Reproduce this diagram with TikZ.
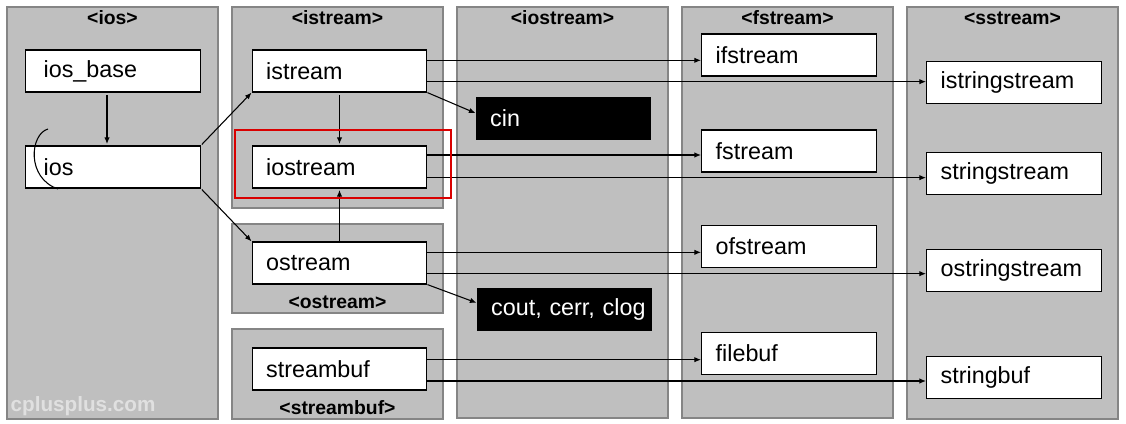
\documentclass[tikz,border=0pt]{standalone}
\usepackage{fontspec}
\setmainfont{Liberation Sans}
\usetikzlibrary{arrows.meta}

\tikzset{
  panel/.style={draw=black!48, line width=1.6pt, fill=black!25},
  cls/.style={draw, fill=white, line width=0.9pt, minimum height=31.5pt,
    text width=110pt, inner xsep=10.5pt, align=left,
    font=\fontsize{17.5}{20}\selectfont},
  obj/.style={cls, fill=black, text=white},
  hdr/.style={font=\bfseries\fontsize{14.5}{16}\selectfont},
  arr/.style={-{Latex[length=5pt,width=4pt]}, line width=0.8pt},
  link/.style={line width=0.8pt},
}

\begin{document}
\begin{tikzpicture}[x=0.75pt, y=-0.75pt]
  \useasboundingbox[fill=white] (0,0) rectangle (1126,424);

  % headers' panels
  \draw[panel] (7,7) rectangle (218,419);
  \draw[panel] (232,7) rectangle (443,208);
  \draw[panel] (232,224) rectangle (443,313);
  \draw[panel] (232,329) rectangle (443,419);
  \draw[panel] (457,7) rectangle (668,418);
  \draw[panel] (682,7) rectangle (893,418);
  \draw[panel] (907,7) rectangle (1118,419);

  \node[hdr] (h_ios) at (112.5,18) {<ios>};
  \node[hdr] (h_istream) at (337.5,18) {<istream>};
  \node[hdr] (h_ostream) at (337.5,302) {<ostream>};
  \node[hdr] (h_streambuf) at (337.5,408) {<streambuf>};
  \node[hdr] (h_iostream) at (562.5,18) {<iostream>};
  \node[hdr] (h_fstream) at (787.5,18) {<fstream>};
  \node[hdr] (h_sstream) at (1012.5,18) {<sstream>};

  \node[text=black!12, font=\bfseries\fontsize{15.5}{17}\selectfont, anchor=west]
    (wmark) at (6,406) {cplusplus.com};

  % classes
  \node[cls, inner xsep=13.5pt, text width=104pt] (iosbase) at (113,71) {ios\_base};
  \node[cls, inner xsep=13.5pt, text width=104pt] (ios) at (113,167) {ios};
  \node[cls] (istream) at (339.5,71) {istream};
  \node[cls] (iostream) at (339.5,167) {iostream};
  \node[cls] (ostream) at (339.5,263) {ostream};
  \node[cls] (streambuf) at (339.5,369) {streambuf};
  \node[obj] (cin) at (563.5,118.5) {cin};
  \node[obj] (cout) at (564.5,309.5) {\mbox{cout, cerr, clog}};
  \node[cls] (ifstream) at (789,55) {ifstream};
  \node[cls] (fstream) at (789,151) {fstream};
  \node[cls] (ofstream) at (789,246.5) {ofstream};
  \node[cls] (filebuf) at (789,353.5) {filebuf};
  \node[cls] (istringstream) at (1014,82.5) {istringstream};
  \node[cls] (stringstream) at (1014,173.5) {stringstream};
  \node[cls] (ostringstream) at (1014,270.5) {ostringstream};
  \node[cls] (stringbuf) at (1014,377.5) {stringbuf};

  % inheritance
  \draw[arr, shorten <=2pt, shorten >=1pt] ([xshift=-4.5pt]iosbase.south) -- ([xshift=-4.5pt]ios.north);
  \draw[arr, shorten <=1pt] (ios.north east) -- (istream.south west);
  \draw[arr, shorten <=1pt] (ios.south east) -- (ostream.north west);
  \draw[arr, shorten <=2pt, shorten >=1pt] (istream.south) -- (iostream.north);
  \draw[arr, shorten >=1pt] (ostream.north) -- (iostream.south);
  \draw[arr] (istream.south east) -- ([yshift=4pt]cin.west);
  \draw[arr] (ostream.south east) -- ([yshift=5pt]cout.west);

  \draw[arr] ([yshift=8pt]istream.east) -- ([yshift=8pt]istream.east -| ifstream.west);
  \draw[arr] ([yshift=-8pt]istream.east) -- ([yshift=-8pt]istream.east -| istringstream.west);
  \draw[arr] ([yshift=9pt]iostream.east) -- ([yshift=9pt]iostream.east -| fstream.west);
  \draw[arr] ([yshift=-8pt]iostream.east) -- ([yshift=-8pt]iostream.east -| stringstream.west);
  \draw[arr] ([yshift=8pt]ostream.east) -- ([yshift=8pt]ostream.east -| ofstream.west);
  \draw[arr] ([yshift=-8pt]ostream.east) -- ([yshift=-8pt]ostream.east -| ostringstream.west);
  \draw[arr] ([yshift=7pt]streambuf.east) -- ([yshift=7pt]streambuf.east -| filebuf.west);
  \draw[arr] ([yshift=-9pt]streambuf.east) -- ([yshift=-9pt]streambuf.east -| stringbuf.west);

  % marks
  \draw[link] (48,129) .. controls (30,134) and (26,178) .. (58,189);
  \draw[red!85!black, line width=1.8pt] (235,130) rectangle (451,198);
\end{tikzpicture}
\end{document}
